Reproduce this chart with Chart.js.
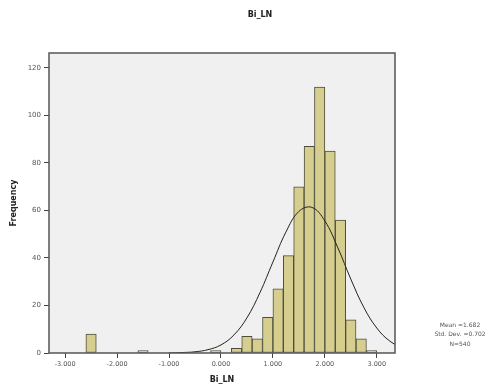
<!DOCTYPE html>
<html>
<head>
<meta charset="utf-8">
<script src="https://cdn.jsdelivr.net/npm/chart.js@4/dist/chart.umd.min.js"></script>
<style>
  html, body { margin: 0; padding: 0; background: #fff; }
  #wrap { width: 495px; height: 389px; }
</style>
</head>
<body>
<div id="wrap"><canvas id="hist"></canvas></div>
<script>
// histogram bins (centre of each 0.2 wide bin) and counts
const binCenters = [-2.5, -1.5, -0.1, 0.3, 0.5, 0.7, 0.9, 1.1, 1.3, 1.5, 1.7, 1.9, 2.1, 2.3, 2.5, 2.7, 2.9];
const counts     = [8, 1, 1, 2, 7, 6, 15, 27, 41, 70, 87, 112, 85, 56, 14, 6, 1];

// fitted normal curve
const curveX = [-1.0, -0.75, -0.5, -0.25, 0, 0.25, 0.5, 0.75, 1.0, 1.25, 1.5, 1.75, 2.0, 2.25, 2.5, 2.75, 3.0, 3.25, 3.5];
const curveY = [0, 0.2, 0.5, 1.4, 3.4, 7.6, 14.8, 25.4, 38.3, 50.9, 59.6, 61.3, 55.6, 44.3, 31.1, 19.2, 10.5, 5.0, 2.1];

const xTicks = [-3, -2, -1, 0, 1, 2, 3];
const yTicks = [0, 20, 40, 60, 80, 100, 120];

const statLines = ['Mean =1.682', 'Std. Dev. =0.702', 'N=540'];
const chartTitle = 'Bi_LN';

const frame = {
    id: 'frame',
    beforeDraw(chart) {
        const a = chart.chartArea, ctx = chart.ctx;
        ctx.save();
        ctx.fillStyle = '#f0f0f0';
        ctx.fillRect(a.left, a.top, a.right - a.left, a.bottom - a.top);
        ctx.restore();
    },
    afterDatasetsDraw(chart) {
        const a = chart.chartArea, ctx = chart.ctx;
        ctx.save();
        ctx.strokeStyle = '#555';
        ctx.lineWidth = 1.5;
        ctx.strokeRect(a.left, a.top, a.right - a.left, a.bottom - a.top);
        ctx.restore();
    },
    afterDraw(chart) {
        const ctx = chart.ctx;
        ctx.save();
        ctx.fillStyle = '#222';
        ctx.textAlign = 'center';
        ctx.textBaseline = 'middle';
        ctx.font = 'bold 8px "DejaVu Sans"';
        ctx.fillText(chartTitle, 260, 15);
        ctx.fillStyle = '#555';
        ctx.font = '6px "DejaVu Sans"';
        statLines.forEach((t, i) => ctx.fillText(t, 460, 325 + i * 9.5));
        ctx.restore();
    }
};

new Chart(document.getElementById('hist'), {
    data: {
        datasets: [{
            type: 'line',
            data: curveX.map((x, i) => ({ x: x, y: curveY[i] })),
            borderColor: '#222',
            borderWidth: 1,
            pointRadius: 0,
            tension: 0.4,
            order: 1
        }, {
            type: 'bar',
            data: binCenters.map((x, i) => ({ x: x, y: counts[i] })),
            backgroundColor: '#d5ce8e',
            borderColor: '#4e4d3c',
            borderWidth: 1,
            borderSkipped: false,
            barPercentage: 1,
            categoryPercentage: 1,
            order: 2
        }]
    },
    options: {
        responsive: true,
        maintainAspectRatio: false,
        animation: false,
        layout: { padding: { top: 53, right: 100, left: 0, bottom: 0 } },
        plugins: { legend: { display: false }, tooltip: { enabled: false } },
        scales: {
            x: {
                type: 'linear',
                offset: false,
                min: -3.31,
                max: 3.35,
                afterBuildTicks: s => { s.ticks = xTicks.map(v => ({ value: v })); },
                afterFit: s => { s.height = 36; },
                border: { display: false },
                grid: { offset: false, drawOnChartArea: false, tickLength: 5, color: '#444' },
                ticks: {
                    padding: 2,
                    color: '#555',
                    font: { family: 'DejaVu Sans', size: 6.5 },
                    maxRotation: 0,
                    callback: v => v.toFixed(3)
                },
                title: {
                    display: true,
                    text: 'Bi_LN',
                    color: '#222',
                    font: { family: 'DejaVu Sans', size: 8, weight: 'bold' },
                    padding: { top: 2, bottom: 4 }
                }
            },
            y: {
                min: 0,
                max: 126.3,
                afterBuildTicks: s => { s.ticks = yTicks.map(v => ({ value: v })); },
                afterFit: s => { s.width = 49; },
                border: { display: false },
                grid: { drawOnChartArea: false, tickLength: 5, color: '#444' },
                ticks: {
                    padding: 3,
                    color: '#555',
                    font: { family: 'DejaVu Sans', size: 7 }
                },
                title: {
                    display: true,
                    text: 'Frequency',
                    color: '#222',
                    font: { family: 'DejaVu Sans', size: 8, weight: 'bold' },
                    padding: { top: 9, bottom: 2 }
                }
            }
        }
    },
    plugins: [frame]
});
</script>
</body>
</html>
